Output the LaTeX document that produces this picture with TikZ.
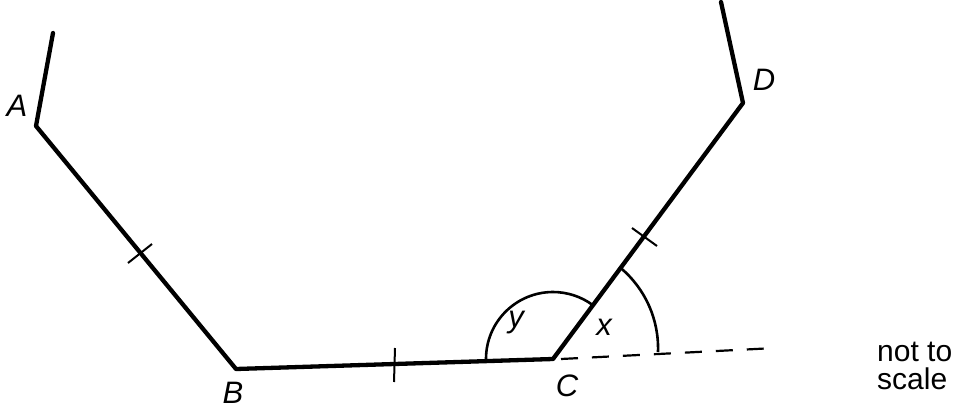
\documentclass[tikz,border=0pt]{standalone}
\usepackage{fontspec}
\setmainfont{Liberation Sans}
\begin{document}
\begin{tikzpicture}[x=1pt,y=-1pt,
  edge/.style={line width=4.3pt,line join=round,line cap=round},
  tick/.style={line width=2pt},
  anglearc/.style={line width=2.6pt},
  ext/.style={line width=2.2pt,dash pattern=on 17pt off 14pt},
  lab/.style={font=\fontsize{31}{31}\selectfont\itshape,inner sep=0pt},
  note/.style={font=\fontsize{30}{28}\selectfont,align=left,inner sep=0pt}]
\useasboundingbox (0,0) rectangle (970,410);
\coordinate (Atop) at (53,33);
\coordinate (A) at (36,126);
\coordinate (B) at (236,369);
\coordinate (C) at (553,359);
\coordinate (D) at (743,103);
\coordinate (Dtop) at (721,2);
\coordinate (E) at (775,348);
\draw[edge] (Atop) -- (A) -- (B) -- (C) -- (D) -- (Dtop);
\draw[ext] ([xshift=8pt]C) -- (E);
% ticks
\draw[tick] (128,263) -- (152,244);
\draw[tick] (395,348) -- (394,382);
\draw[tick] (632,228) -- (657,246);
% angle arcs
\draw[anglearc] (486,359) arc[start angle=180,end angle=306,radius=67];
\draw[anglearc] (658,352) arc[start angle=2,end angle=-50,radius=105];
% labels
\node[lab] (lA) at (17,106) {A};
\node[lab] (lB) at (233,393) {B};
\node[lab] (lC) at (567,386) {C};
\node[lab] (lD) at (764,80) {D};
\node[lab] (ly) at (516,323) {y};
\node[lab] (lx) at (604,327) {x};
\node[note,anchor=west] (nt) at (877,366) {not to\\scale};
\end{tikzpicture}
\end{document}
